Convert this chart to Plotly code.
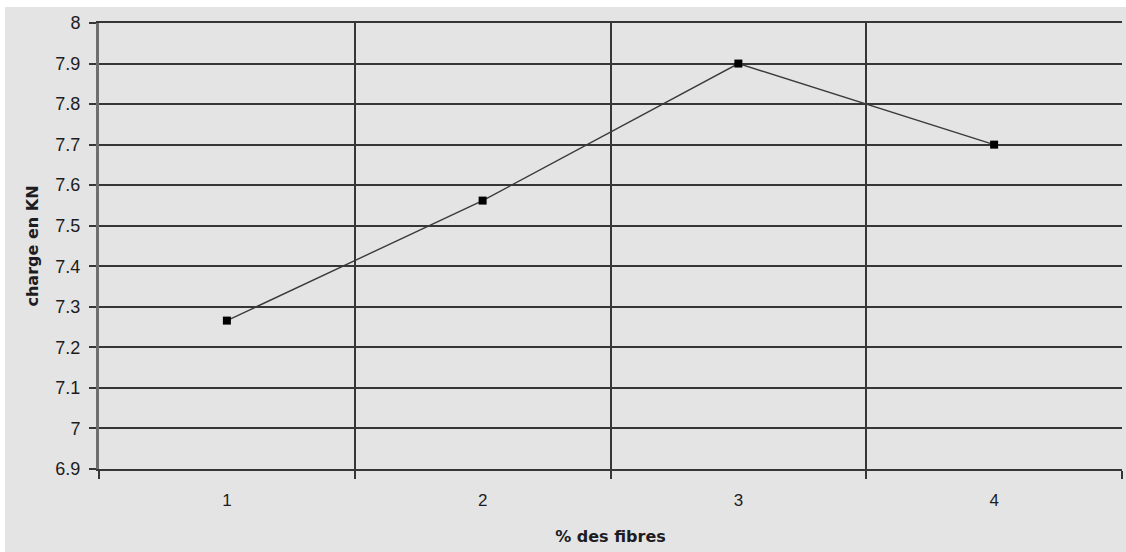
import plotly.graph_objects as go

# Charge à la rupture en fonction du pourcentage de fibres
fibres = ["1", "2", "3", "4"]
charge_kn = [7.266, 7.562, 7.90, 7.70]

y_ticks = [6.9, 7.0, 7.1, 7.2, 7.3, 7.4, 7.5, 7.6, 7.7, 7.8, 7.9, 8.0]
y_tick_text = ["6.9", "7", "7.1", "7.2", "7.3", "7.4", "7.5", "7.6", "7.7", "7.8", "7.9", "8"]

BG = "#e4e4e4"
GRID = "#363636"
TXT = "#1c1c22"
TITLE_FONT = "DejaVu Sans, Arial, sans-serif"

fig = go.Figure()
fig.add_trace(go.Scatter(
    x=fibres, y=charge_kn, mode="lines+markers",
    line=dict(color="#3a3a3a", width=1.4),
    marker=dict(symbol="square", size=8, color="#000000"),
    showlegend=False,
))

fig.update_layout(
    width=1126, height=552,
    margin=dict(l=99, r=4, t=23, b=83, autoexpand=False),
    paper_bgcolor="#ffffff",
    plot_bgcolor=BG,
    font=dict(family="Liberation Sans, Arial, sans-serif", color=TXT),
    shapes=[dict(
        type="rect", xref="paper", yref="paper", layer="below",
        x0=-0.0919, x1=1.01, y0=-0.2, y1=1.0359,
        fillcolor=BG, line=dict(width=0),
    )],
)

fig.update_xaxes(
    type="category", categoryorder="array", categoryarray=fibres,
    range=[-0.5, 3.5],
    tickson="boundaries", ticks="outside", ticklen=8, tickwidth=1.8, tickcolor=GRID,
    showgrid=True, gridcolor=GRID, gridwidth=1.8,
    showline=True, linecolor=GRID, linewidth=1.8, mirror=True,
    tickfont=dict(size=17),
    ticklabelstandoff=15,
    title=dict(text="% des fibres",
               font=dict(family=TITLE_FONT, size=16, weight="bold"), standoff=22),
    zeroline=False,
)
fig.update_yaxes(
    range=[6.9, 8.0],
    tickvals=y_ticks, ticktext=y_tick_text,
    ticks="outside", ticklen=7, tickwidth=1.8, tickcolor=GRID,
    showgrid=True, gridcolor=GRID, gridwidth=1.8,
    showline=True, linecolor="#6e6e6e", linewidth=3, mirror=False,
    tickfont=dict(size=18),
    ticklabelstandoff=5,
    title=dict(text="charge en KN",
               font=dict(family=TITLE_FONT, size=16, weight="bold"), standoff=13),
    zeroline=False,
)

fig.write_html("out.html")
